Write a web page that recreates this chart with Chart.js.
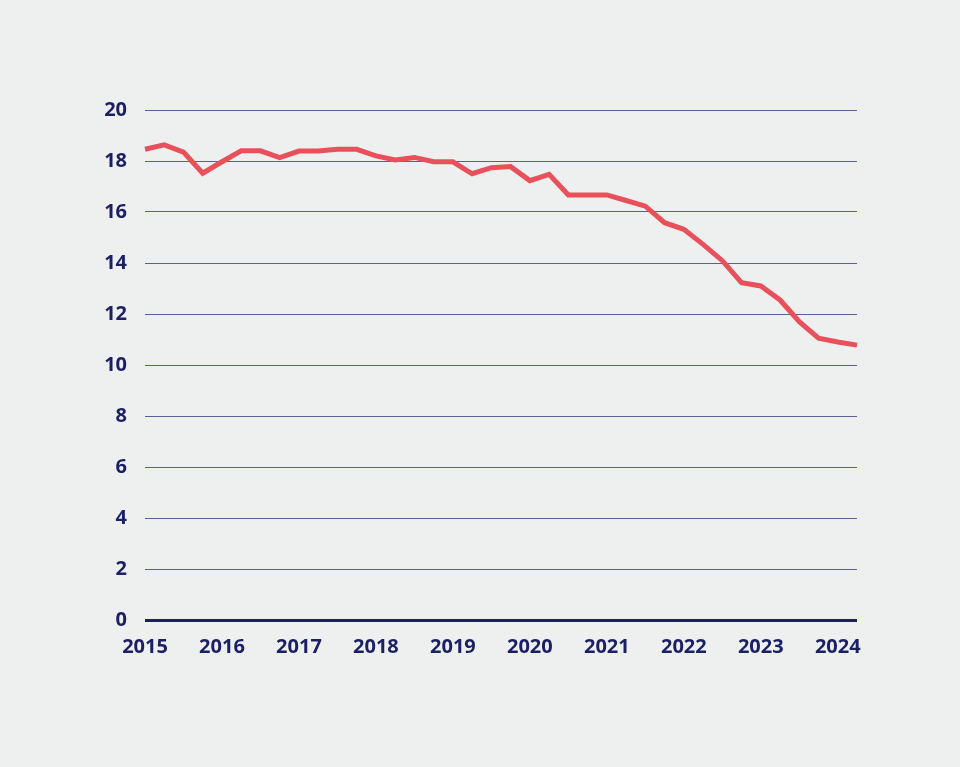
<!DOCTYPE html>
<html>
<head>
<meta charset="utf-8">
<script src="https://cdn.jsdelivr.net/npm/chart.js@4/dist/chart.umd.min.js"></script>
<style>
  html, body { margin: 0; padding: 0; background: #eef0ef; }
  #wrap { width: 960px; height: 767px; position: relative; }
</style>
</head>
<body>
<div id="wrap"><canvas id="chart"></canvas></div>
<script>
// quarterly points, 2015 Q1 .. 2024 Q2
const years = [2015, 2016, 2017, 2018, 2019, 2020, 2021, 2022, 2023, 2024];
const quarters = [];
years.forEach(y => [1, 2, 3, 4].forEach(q => quarters.push(y + ' Q' + q)));
const categories = quarters.slice(0, 38);

const values = [
  18.46, 18.63, 18.35, 17.52, 17.97, 18.40, 18.40, 18.13,
  18.39, 18.39, 18.46, 18.46, 18.20, 18.04, 18.14, 17.97,
  17.97, 17.50, 17.74, 17.78, 17.23, 17.48, 16.67, 16.67,
  16.67, 16.45, 16.23, 15.58, 15.32, 14.73, 14.09, 13.23,
  13.10, 12.55, 11.70, 11.05, 10.90, 10.78
];

const yTicks = [0, 2, 4, 6, 8, 10, 12, 14, 16, 18, 20];

const navy = '#1b1f63';
const tickFont = { family: "'Open Sans', sans-serif", size: 20, weight: 'bold' };

new Chart(document.getElementById('chart').getContext('2d'), {
  type: 'line',
  data: {
    labels: categories,
    datasets: [{
      data: values,
      borderColor: '#e8505b',
      borderWidth: 5,
      pointRadius: 0,
      tension: 0,
      borderJoinStyle: 'miter'
    }]
  },
  options: {
    responsive: true,
    maintainAspectRatio: false,
    animation: false,
    layout: { padding: { left: 95, right: 103, top: 110, bottom: 107 } },
    plugins: { legend: { display: false }, tooltip: { enabled: false } },
    scales: {
      x: {
        offset: false,
        grid: { display: false, drawTicks: false },
        border: { display: false },
        ticks: {
          autoSkip: false,
          maxRotation: 0,
          padding: 15,
          color: navy,
          font: tickFont,
          callback: function(v, i) {
            const lab = categories[i];
            return lab.endsWith('Q1') ? lab.slice(0, 4) : '';
          }
        },
        afterFit: s => { s.height = 40; }
      },
      y: {
        min: 0,
        max: 20,
        afterBuildTicks: s => { s.ticks = yTicks.map(v => ({ value: v })); },
        grid: {
          drawTicks: false,
          color: c => c.tick && c.tick.value === 0 ? navy : '#5b6094',
          lineWidth: c => c.tick && c.tick.value === 0 ? 3 : 1
        },
        border: { display: false },
        ticks: { padding: 18, color: navy, font: tickFont },
        afterFit: s => { s.width = 50; }
      }
    }
  }
});
</script>
</body>
</html>
